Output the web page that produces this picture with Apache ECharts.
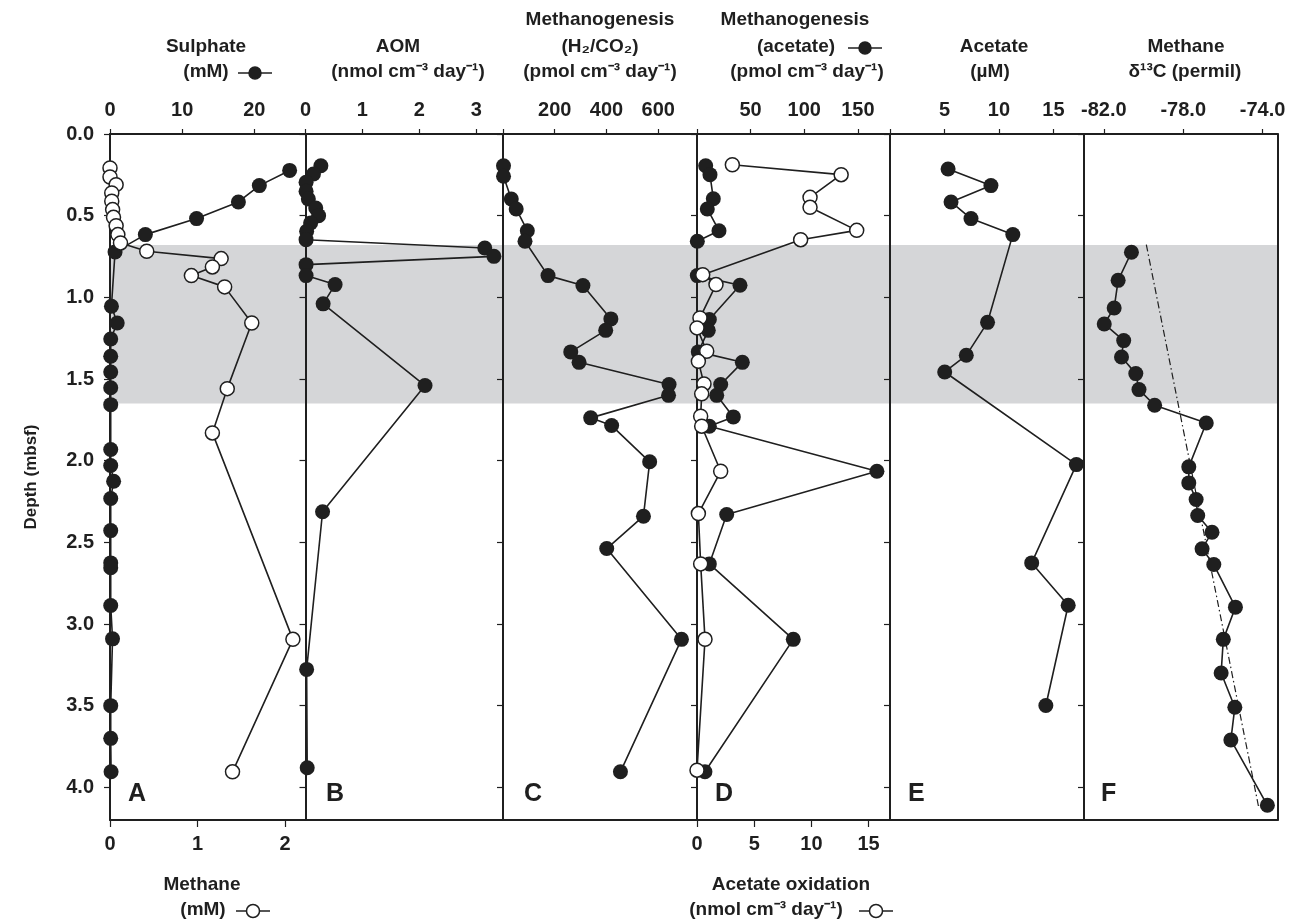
<!DOCTYPE html>
<html>
<head>
<meta charset="utf-8">
<script src="https://cdn.jsdelivr.net/npm/echarts@6/dist/echarts.min.js"></script>
<style>html,body{margin:0;padding:0;background:#fff}#c{width:1301px;height:919px}</style>
</head>
<body>
<div id="c"></div>
<script>
// ---------------- DATA ----------------
const depthTicks = [0, 0.5, 1, 1.5, 2, 2.5, 3, 3.5, 4];
const bandDepth = [0.68, 1.65];

// A: sulphate (mM, filled) and methane (mM, open)
const sulphateDepth = [0.223,0.316,0.416,0.518,0.616,0.722,1.055,1.157,1.255,1.361,1.457,1.554,1.657,1.932,2.030,2.126,2.232,2.428,2.626,2.656,2.887,3.091,3.500,3.700,3.905];
const sulphate      = [24.9,20.7,17.8,12.0,4.9,0.7,0.2,1.0,0.1,0.1,0.1,0.1,0.1,0.1,0.1,0.5,0.1,0.1,0.1,0.1,0.1,0.35,0.1,0.1,0.15];
const methaneDepth = [0.208,0.263,0.310,0.361,0.412,0.463,0.510,0.561,0.616,0.667,0.718,0.763,0.814,0.867,0.936,1.157,1.559,1.830,3.094,3.905];
const methane      = [0.0,0.0,0.07,0.02,0.02,0.03,0.04,0.07,0.09,0.12,0.42,1.27,1.17,0.93,1.31,1.62,1.34,1.17,2.09,1.40];

// B: AOM (nmol cm-3 day-1)
const aomDepth = [0.194,0.245,0.296,0.351,0.398,0.453,0.500,0.545,0.596,0.647,0.698,0.749,0.800,0.867,0.922,1.040,1.540,2.313,3.278,3.880];
const aom      = [0.27,0.14,0.01,0.01,0.05,0.18,0.23,0.09,0.02,0.01,3.15,3.31,0.01,0.01,0.52,0.31,2.10,0.30,0.02,0.03];

// C: methanogenesis H2/CO2 (pmol cm-3 day-1)
const h2Depth = [0.194,0.259,0.398,0.459,0.592,0.657,0.867,0.928,1.132,1.202,1.334,1.398,1.534,1.600,1.738,1.785,2.007,2.340,2.538,3.094,3.905];
const h2co2   = [2,2,32,51,94,85,174,309,417,397,262,294,642,640,339,420,567,543,401,690,454];

// D: methanogenesis from acetate (pmol, filled) and acetate oxidation (nmol, open)
const acMgDepth = [0.194,0.249,0.396,0.459,0.592,0.657,0.867,0.926,1.136,1.202,1.334,1.398,1.534,1.600,1.732,1.789,2.065,2.330,2.632,3.094,3.905];
const acetateMg = [8.1,12.1,15.2,9.6,20.5,0.3,0.3,40.1,11.5,10.5,1.2,42.3,22.1,18.4,33.9,11.5,167.8,27.7,11.5,89.8,7.4];
const acOxDepth = [0.188,0.249,0.388,0.449,0.590,0.647,0.861,0.922,1.126,1.187,1.330,1.392,1.530,1.591,1.728,1.789,2.065,2.324,2.632,3.094,3.895];
const acetateOx = [3.09,12.6,9.88,9.88,13.96,9.06,0.5,1.66,0.26,0.0,0.85,0.12,0.61,0.41,0.32,0.41,2.07,0.12,0.32,0.7,0.0];

// E: acetate (µM)
const acetateDepth = [0.214,0.316,0.416,0.518,0.616,1.153,1.355,1.457,2.024,2.626,2.885,3.499];
const acetate      = [5.33,9.26,5.6,7.43,11.27,8.95,7.0,5.02,17.1,13.0,16.35,14.3];

// F: methane d13C (permil)
const d13cDepth = [0.724,0.896,1.065,1.163,1.265,1.365,1.467,1.565,1.661,1.769,2.038,2.136,2.238,2.336,2.438,2.540,2.636,2.897,3.094,3.300,3.510,3.710,4.110];
const d13c      = [-80.61,-81.28,-81.48,-81.98,-81.0,-81.11,-80.39,-80.23,-79.44,-76.84,-77.72,-77.72,-77.35,-77.27,-76.55,-77.05,-76.46,-75.37,-75.98,-76.09,-75.40,-75.60,-73.76];
const trendDepth = [0.677, 4.115];
const trend      = [-79.86, -74.21];

// tick values
const sulphateTicks = [0, 10, 20];
const methaneTicks = [0, 1, 2];
const aomTicks = [0, 1, 2, 3];
const h2Ticks = [0, 200, 400, 600];
const h2Labels = [200, 400, 600];
const acMgTicks = [0, 50, 100, 150];
const acMgLabels = [50, 100, 150];
const acOxTicks = [0, 5, 10, 15];
const acetateTicks = [0, 5, 10, 15];
const acetateLabels = [5, 10, 15];
const d13cTicks = [-82, -78, -74];

// ---------------- CHART ----------------
const FONT = '"Liberation Sans", Arial, Helvetica, sans-serif';
const INK = '#1f1f1f';
const BAND = '#d5d6d8';
const zip = (xs, ys) => xs.map((x, i) => [x, ys[i]]);

const gridTop = 134, gridH = 686;
const panels = [
  { left: 110, width: 195.5 },
  { left: 305.5, width: 197.5 },
  { left: 503, width: 194 },
  { left: 697, width: 193 },
  { left: 890, width: 194 },
  { left: 1084, width: 193.5 }
];
const grid = panels.map(p => ({ left: p.left, top: gridTop, width: p.width, height: gridH }));

const lbl = { color: INK, fontFamily: FONT, fontWeight: 'bold', fontSize: 20 };

function xAx(gi, pos, min, max, ticks, labels, fmt) {
  const a = {
    type: 'value', gridIndex: gi, position: pos, min: min, max: max, z: 3,
    splitLine: { show: false },
    axisLine: { show: true, onZero: false, lineStyle: { color: INK, width: 2 } }
  };
  if (ticks) {
    a.axisTick = { show: true, customValues: ticks, length: pos === 'top' ? 5 : 7, lineStyle: { color: INK, width: 1.2 } };
    a.axisLabel = Object.assign({ show: true, customValues: labels || ticks, margin: 14, formatter: fmt || (v => String(v)) }, lbl);
  } else {
    a.axisTick = { show: false };
    a.axisLabel = { show: false };
  }
  return a;
}
const xAxis = [
  xAx(0, 'top', 0, 27.1, sulphateTicks),
  xAx(0, 'bottom', 0, 2.234, methaneTicks),
  xAx(1, 'top', 0, 3.47, aomTicks),
  xAx(1, 'bottom', 0, 1),
  xAx(2, 'top', 0, 750, h2Ticks, h2Labels),
  xAx(2, 'bottom', 0, 1),
  xAx(3, 'top', 0, 180, acMgTicks, acMgLabels),
  xAx(3, 'bottom', 0, 16.87, acOxTicks),
  xAx(4, 'top', 0, 17.8, acetateTicks, acetateLabels),
  xAx(4, 'bottom', 0, 1),
  xAx(5, 'top', -83, -73.25, d13cTicks, d13cTicks, v => v.toFixed(1)),
  xAx(5, 'bottom', 0, 1)
];

const yAxis = panels.map((p, i) => ({
  type: 'value', gridIndex: i, inverse: true, min: 0, max: 4.2, position: 'left', z: 3,
  splitLine: { show: false },
  axisLine: { show: true, onZero: false, lineStyle: { color: INK, width: 2 } },
  axisTick: { show: true, customValues: depthTicks, length: 6, lineStyle: { color: INK, width: 1.2 } },
  axisLabel: i === 0
    ? Object.assign({ show: true, customValues: depthTicks, margin: 16, formatter: v => v.toFixed(1) }, lbl)
    : { show: false },
  name: i === 0 ? 'Depth (mbsf)' : '',
  nameLocation: 'middle', nameGap: 70, nameRotate: 90,
  nameTextStyle: { color: INK, fontFamily: FONT, fontWeight: 'bold', fontSize: 17 }
}));
yAxis.push({
  type: 'value', gridIndex: 5, inverse: true, min: 0, max: 4.2, position: 'right', z: 3,
  splitLine: { show: false },
  axisLine: { show: true, onZero: false, lineStyle: { color: INK, width: 2 } },
  axisTick: { show: false }, axisLabel: { show: false }
});

const filled = { symbol: 'circle', symbolSize: 15, itemStyle: { color: INK, borderWidth: 0 } };
const open = { symbol: 'circle', symbolSize: 14, itemStyle: { color: '#ffffff', borderColor: INK, borderWidth: 1.5 } };
function ser(xi, yi, xs, ys, mk, extra) {
  return Object.assign({
    type: 'line', xAxisIndex: xi, yAxisIndex: yi, data: zip(xs, ys), z: 4,
    lineStyle: { color: INK, width: 1.6 }, showSymbol: true, animation: false, silent: true
  }, mk, extra || {});
}
const band = {
  silent: true, z: 1,
  itemStyle: { color: BAND, opacity: 1 },
  data: [[{ yAxis: bandDepth[0] }, { yAxis: bandDepth[1] }]]
};
const series = [
  ser(0, 0, sulphate, sulphateDepth, filled, { markArea: band }),
  ser(1, 0, methane, methaneDepth, open),
  ser(2, 1, aom, aomDepth, filled, { markArea: band }),
  ser(4, 2, h2co2, h2Depth, filled, { markArea: band }),
  ser(6, 3, acetateMg, acMgDepth, filled, { markArea: band }),
  ser(7, 3, acetateOx, acOxDepth, open),
  ser(8, 4, acetate, acetateDepth, filled, { markArea: band }),
  ser(10, 5, trend, trendDepth, { symbol: 'none' }, { lineStyle: { color: INK, width: 1.2, type: [7, 3, 1.5, 3] }, markArea: band }),
  ser(10, 5, d13c, d13cDepth, filled)
];

// ---------- titles (decorative text) ----------
function T(text, x, y, size, align) {
  return { type: 'text', x: x, y: y, silent: true, z: 10,
    style: { text: text, font: 'bold ' + (size || 19) + 'px ' + FONT, fill: INK,
      align: align || 'center', verticalAlign: 'middle', textAlign: align || 'center', textVerticalAlign: 'middle' } };
}
function marker(cx, cy, isOpen) {
  return [
    { type: 'line', silent: true, z: 10, shape: { x1: cx - 17, y1: cy, x2: cx + 17, y2: cy }, style: { stroke: INK, lineWidth: 1.5 } },
    { type: 'circle', silent: true, z: 11, shape: { cx: cx, cy: cy, r: isOpen ? 6.5 : 6 },
      style: { fill: isOpen ? '#fff' : INK, stroke: INK, lineWidth: 1.5 } }
  ];
}
const graphic = [
  T('Sulphate', 206, 47), T('(mM)', 206, 72), ...marker(255, 73, false),
  T('AOM', 398, 47), T('(nmol cm\u207B\u00B3 day\u207B\u00B9)', 408, 72),
  T('Methanogenesis', 600, 20), T('(H\u2082/CO\u2082)', 600, 47), T('(pmol cm\u207B\u00B3 day\u207B\u00B9)', 600, 72),
  T('Methanogenesis', 795, 20), T('(acetate)', 796, 47), ...marker(865, 48, false), T('(pmol cm\u207B\u00B3 day\u207B\u00B9)', 807, 72),
  T('Acetate', 994, 47), T('(\u00B5M)', 990, 72),
  T('Methane', 1186, 47), T('\u03B4\u00B9\u00B3C (permil)', 1185, 72),
  T('Methane', 202, 885), T('(mM)', 203, 910), ...marker(253, 911, true),
  T('Acetate oxidation', 791, 885), T('(nmol cm\u207B\u00B3 day\u207B\u00B9)', 766, 910), ...marker(876, 911, true),
  T('A', 128, 794, 25, 'left'), T('B', 326, 794, 25, 'left'), T('C', 524, 794, 25, 'left'),
  T('D', 715, 794, 25, 'left'), T('E', 908, 794, 25, 'left'), T('F', 1101, 794, 25, 'left')
];

const chart = echarts.init(document.getElementById('c'), null, { renderer: 'canvas' });
chart.setOption({
  animation: false,
  backgroundColor: '#ffffff',
  grid: grid, xAxis: xAxis, yAxis: yAxis, series: series, graphic: graphic
});
</script>
</body>
</html>
